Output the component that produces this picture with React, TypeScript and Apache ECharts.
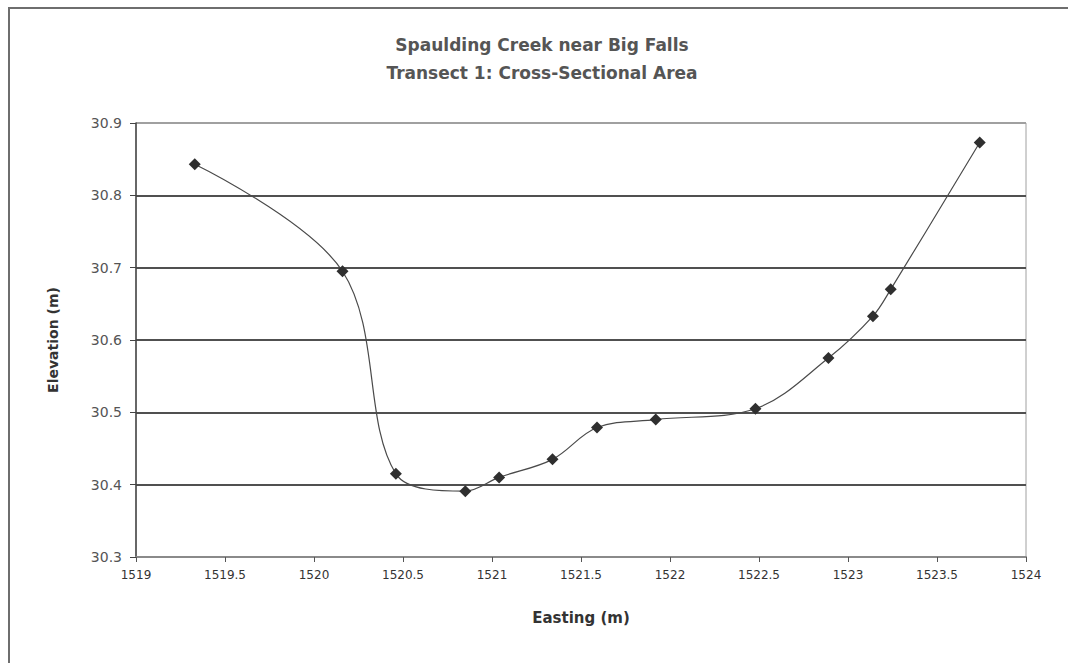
import React, { useEffect, useRef } from "react";
import * as echarts from "echarts";

const titleLines = ["Spaulding Creek near Big Falls", "Transect 1: Cross-Sectional Area"];
const xAxisTitle = "Easting (m)";
const yAxisTitle = "Elevation (m)";

const easting = [
  1519.33, 1520.16, 1520.46, 1520.85, 1521.04, 1521.34, 1521.59,
  1521.92, 1522.48, 1522.89, 1523.14, 1523.24, 1523.74,
];
const elevation = [
  30.843, 30.695, 30.415, 30.391, 30.41, 30.435, 30.479,
  30.49, 30.505, 30.575, 30.633, 30.67, 30.873,
];

const xMin = 1519;
const xMax = 1524;
const xStep = 0.5;
const yMin = 30.3;
const yMax = 30.9;
const yStep = 0.1;

export default function App() {
  const ref = useRef<HTMLDivElement>(null);

  useEffect(() => {
    if (!ref.current) return;
    const chart = echarts.init(ref.current, null, { renderer: "svg" });
    const data = easting.map((x, i) => [x, elevation[i]]);
    const font = "'DejaVu Sans', 'Liberation Sans', Arial, sans-serif";
    chart.setOption({
      animation: false,
      backgroundColor: "#ffffff",
      grid: {
        left: 136,
        right: 42,
        top: 123,
        bottom: 106,
        show: true,
        borderColor: "#a0a0a0",
        borderWidth: 1,
        backgroundColor: "#ffffff",
      },
      graphic: [
        {
          type: "rect",
          shape: { x: 9, y: 8, width: 1100, height: 700 },
          style: { fill: "none", stroke: "#6e6e6e", lineWidth: 2 },
          silent: true,
        },
        {
          type: "text",
          x: 542,
          y: 45,
          style: {
            text: titleLines[0],
            font: `bold 17px ${font}`,
            fill: "#555555",
            align: "center",
            verticalAlign: "middle",
          },
        },
        {
          type: "text",
          x: 542,
          y: 73,
          style: {
            text: titleLines[1],
            font: `bold 17px ${font}`,
            fill: "#555555",
            align: "center",
            verticalAlign: "middle",
          },
        },
      ],
      xAxis: {
        type: "value",
        min: xMin,
        max: xMax,
        interval: xStep,
        name: xAxisTitle,
        nameLocation: "middle",
        nameGap: 53,
        nameTextStyle: { fontFamily: font, fontWeight: "bold", fontSize: 15, color: "#333" },
        axisLine: { show: true, lineStyle: { color: "#8a8a8a", width: 2 } },
        axisTick: { show: true, length: 5, lineStyle: { color: "#555" } },
        axisLabel: {
          fontFamily: font,
          fontSize: 12,
          color: "#333",
          margin: 12,
          formatter: (v: number) => String(parseFloat(v.toFixed(1))),
        },
        splitLine: { show: false },
      },
      yAxis: {
        type: "value",
        min: yMin,
        max: yMax,
        interval: yStep,
        name: yAxisTitle,
        nameLocation: "middle",
        nameGap: 76,
        nameRotate: 90,
        nameTextStyle: { fontFamily: font, fontWeight: "bold", fontSize: 14, color: "#333" },
        axisLine: { show: true, lineStyle: { color: "#444", width: 1.5 } },
        axisTick: { show: true, length: 6, lineStyle: { color: "#444" } },
        axisLabel: {
          fontFamily: font,
          fontSize: 14,
          color: "#555",
          margin: 14,
          formatter: (v: number) => v.toFixed(1),
        },
        splitLine: {
          show: true,
          lineStyle: {
            color: ["#8a8a8a", "#505050", "#505050", "#505050", "#505050", "#505050", "#a0a0a0"],
            width: 2,
          },
        },
      },
      series: [
        {
          type: "line",
          data,
          smooth: 0.35,
          symbol: "diamond",
          symbolSize: 12,
          itemStyle: { color: "#2f2f2f" },
          lineStyle: { color: "#4a4a4a", width: 1.2 },
        },
      ],
    });
    return () => chart.dispose();
  }, []);

  return (
    <div
      ref={ref}
      style={{ position: "fixed", left: 0, top: 0, width: 1068, height: 663 }}
    />
  );
}
